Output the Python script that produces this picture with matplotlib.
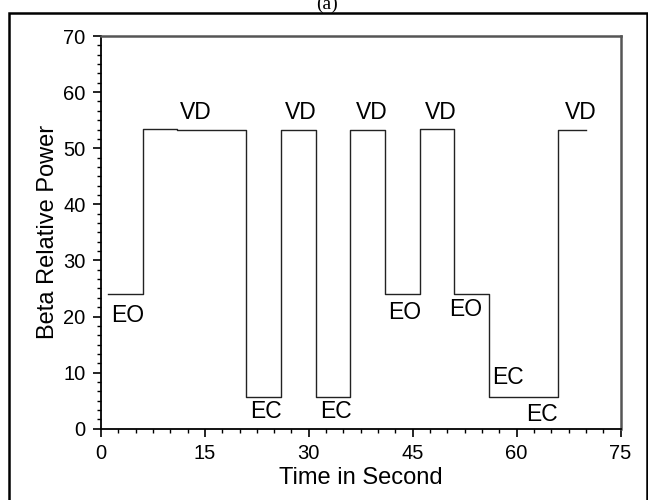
import matplotlib
matplotlib.use("Agg")
import matplotlib.pyplot as plt
from matplotlib.patches import Rectangle

# step edges (seconds) and beta relative power level on each segment
edges = [1, 6, 11, 21, 26, 31, 36, 41, 46, 51, 56, 61, 66, 70]
levels = [24.0, 53.4, 53.2, 5.7, 53.2, 5.7, 53.2, 24.0, 53.4, 24.0, 5.6, 5.7, 53.2]

# state labels and where they sit
state_names = ["VD", "VD", "VD", "VD", "VD", "EO", "EO", "EO", "EC", "EC", "EC", "EC"]
state_x = [13.75, 28.9, 39.15, 49.05, 69.3, 3.9, 43.9, 52.7, 23.75, 33.85, 58.7, 63.7]
state_y = [56.3, 56.3, 56.3, 56.3, 56.3, 20.2, 20.8, 21.3, 3.0, 3.0, 9.15, 2.6]

xticks = [0, 15, 30, 45, 60, 75]
yticks = [0, 10, 20, 30, 40, 50, 60, 70]

plt.rcParams['font.family'] = ['Liberation Sans', 'DejaVu Sans']

fig = plt.figure(figsize=(6.48, 5.0), dpi=100)
ax = fig.add_axes([101 / 648, 1 - 428.7 / 500, 519.5 / 648, 392.7 / 500])

ax.step(edges, levels + [levels[-1]], where='post', color='#222222', lw=1.0)

for name, x, y in zip(state_names, state_x, state_y):
    ax.text(x, y, name, fontsize=16.5, ha='center', va='center')

ax.set_xlim(0, 75)
ax.set_ylim(0, 70)
ax.set_xticks(xticks)
ax.set_yticks(yticks)
ax.set_xticks([i * 2.5 for i in range(31)], minor=True)
ax.set_yticks([i * 10 / 6 for i in range(43)], minor=True)
ax.tick_params(which='major', direction='out', length=5.5, width=1.2, labelsize=14.5, pad=5.5)
ax.tick_params(which='minor', direction='out', length=3.2, width=1.0)

ax.set_xlabel("Time in Second", fontsize=17, labelpad=3)
ax.set_ylabel("Beta Relative Power", fontsize=17, labelpad=3)

for s in ['left', 'bottom']:
    ax.spines[s].set_color('black')
    ax.spines[s].set_linewidth(1.3)
for s in ['top', 'right']:
    ax.spines[s].set_color('#555555')
    ax.spines[s].set_linewidth(1.8)

# outer frame (runs off the bottom of the image)
fig.patches.append(Rectangle((9 / 648, -0.05), 637.5 / 648, 1 - 12.5 / 500 + 0.05,
                             transform=fig.transFigure, fill=False,
                             edgecolor='black', lw=1.8))

# panel tag, mostly cropped at the top
fig.text(326.7 / 648, 1 - 9 / 500, "(a)", family='Liberation Serif', fontsize=14,
         ha='center', va='baseline')

fig.savefig("out.png", dpi=100)
